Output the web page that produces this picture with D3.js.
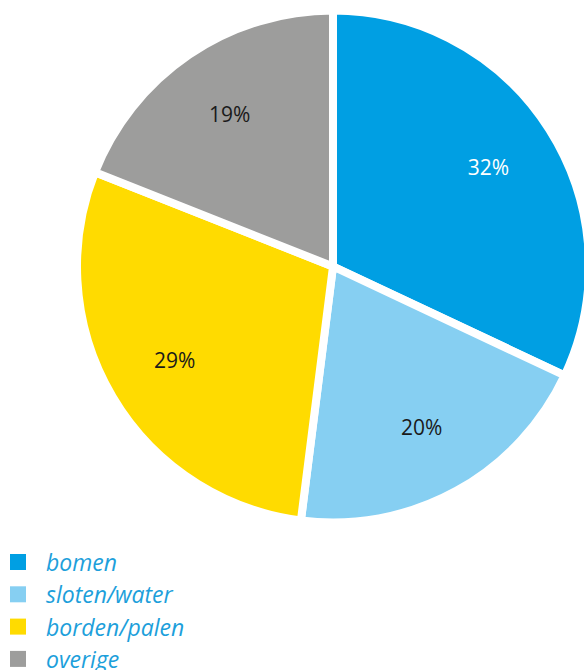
<!DOCTYPE html>
<html><head><meta charset="utf-8">
<script src="https://cdn.jsdelivr.net/npm/d3@7"></script>
<style>body{margin:0;background:#fff}svg{display:block}</style>
</head><body>
<svg id="c" width="584" height="670"></svg>
<script>
const categories = ["bomen", "sloten/water", "borden/palen", "overige"];
const values = [32, 20, 29, 19];
const labels = ["32%", "20%", "29%", "19%"];
const colors = ["#009fe3", "#86cff2", "#ffdb00", "#9d9d9c"];
const labelColors = ["#ffffff", "#1a1a1a", "#1a1a1a", "#1a1a1a"];

const svg = d3.select("#c");
const cx = 333, cy = 266.5, R = 256;
const g = svg.append("g").attr("transform", `translate(${cx},${cy})`);
const pie = d3.pie().sort(null).value(d => d);
const arcs = pie(values);
const arc = d3.arc().innerRadius(0).outerRadius(R);
const labelArc = d3.arc().innerRadius(184).outerRadius(184);

g.selectAll("path").data(arcs).join("path")
  .attr("d", arc)
  .attr("fill", (d, i) => colors[i])
  .attr("stroke", "#fff").attr("stroke-width", 8).attr("stroke-linejoin", "miter");

g.selectAll("text").data(arcs).join("text")
  .attr("transform", d => `translate(${labelArc.centroid(d)})`)
  .attr("text-anchor", "middle").attr("dy", "0.35em")
  .attr("font-family", "Open Sans, sans-serif").attr("font-size", 21)
  .attr("fill", (d, i) => labelColors[i])
  .text((d, i) => labels[i]);

const lg = svg.append("g");
const y = d3.scaleBand().domain(categories).range([554 - 8, 554 - 8 + 4 * 32.3]);
categories.forEach((c, i) => {
  const yy = y(c) + 8;
  lg.append("rect").attr("x", 10).attr("y", yy).attr("width", 16).attr("height", 16).attr("fill", colors[i]);
  lg.append("text").attr("x", 46).attr("y", yy + 17)
    .attr("font-family", "Open Sans, sans-serif").attr("font-style", "italic").attr("font-size", 23)
    .attr("fill", "#1d9fdb").text(c);
});
</script>
</body></html>
